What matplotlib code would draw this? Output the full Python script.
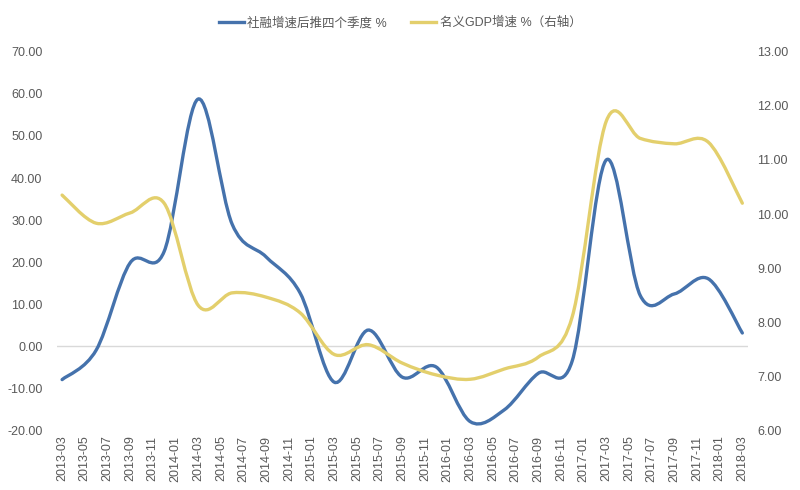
import matplotlib.pyplot as plt
import numpy as np
import pandas as pd
from matplotlib.path import Path
from matplotlib.patches import PathPatch
from matplotlib.lines import Line2D

plt.rcParams["font.family"] = ["Liberation Sans", "Noto Sans CJK SC", "DejaVu Sans"]

# quarterly observations
dates = [
    "2013-03", "2013-06", "2013-09", "2013-12",
    "2014-03", "2014-06", "2014-09", "2014-12",
    "2015-03", "2015-06", "2015-09", "2015-12",
    "2016-03", "2016-06", "2016-09", "2016-12",
    "2017-03", "2017-06", "2017-09", "2017-12",
    "2018-03",
]
tsf = [-8.0, -1.0, 19.8, 22.5, 58.8, 29.0, 21.2, 12.6, -8.6, 3.8, -7.4,
       -5.0, -18.0, -15.2, -6.5, -3.5, 44.3, 12.0, 12.4, 16.0, 3.1]
gdp = [10.35, 9.83, 10.02, 10.2, 8.31, 8.54, 8.46, 8.17, 7.4, 7.58, 7.24,
       7.02, 6.94, 7.13, 7.35, 8.1, 11.72, 11.4, 11.3, 11.33, 10.2]

tick_labels = [p.strftime("%Y-%m") for p in pd.period_range("2013-03", "2018-03", freq="M")][::2]

start = pd.Period("2013-03", freq="M")
xs = np.array([(pd.Period(d, freq="M") - start).n for d in dates], dtype=float)

blue = "#4572AC"
yellow = "#E3CF6C"
grey = "#595959"


def smooth_path(x, y):
    # excel-style smoothed line: cubic bezier through every point
    pts = np.column_stack([x, y])
    verts = [pts[0]]
    codes = [Path.MOVETO]
    n = len(pts)
    for i in range(n - 1):
        p0 = pts[i - 1] if i > 0 else pts[i]
        p1 = pts[i]
        p2 = pts[i + 1]
        p3 = pts[i + 2] if i + 2 < n else pts[i + 1]
        c1 = p1 + (p2 - p0) / 6
        c2 = p2 - (p3 - p1) / 6
        verts += [c1, c2, p2]
        codes += [Path.CURVE4] * 3
    return Path(verts, codes)


fig = plt.figure(figsize=(8, 4.9), dpi=100)
ax = fig.add_axes([0.07125, 0.1224, 0.86375, 0.7715])
ax2 = ax.twinx()

ax.add_patch(PathPatch(smooth_path(xs, tsf), facecolor="none", edgecolor=blue,
                       lw=2.4, capstyle="round", zorder=3))
ax2.add_patch(PathPatch(smooth_path(xs, gdp), facecolor="none", edgecolor=yellow,
                        lw=2.4, capstyle="round", zorder=2))

ax.set_xlim(-0.45, 60.5)
ax.set_ylim(-20, 70)
ax2.set_ylim(6, 13)
ax.set_yticks(np.arange(-20, 71, 10))
ax2.set_yticks(np.arange(6, 13.1, 1))
ax.set_yticklabels([f"{v:.2f}" for v in np.arange(-20, 71, 10)])
ax2.set_yticklabels([f"{v:.2f}" for v in np.arange(6, 13.1, 1)])

ax.set_xticks(np.arange(0, 61, 2))
ax.set_xticklabels(tick_labels, rotation=90)

ax.axhline(0, color="#D9D9D9", lw=1, zorder=1)

for a in (ax, ax2):
    for s in a.spines.values():
        s.set_visible(False)
    a.tick_params(length=0, colors=grey, labelsize=9)
ax.tick_params(axis="y", pad=10.5)
ax2.tick_params(axis="y", pad=6.5)
ax.tick_params(axis="x", pad=4)

handles = [Line2D([], [], color=blue, lw=2.4), Line2D([], [], color=yellow, lw=2.4)]
fig.legend(handles, ["社融增速后推四个季度 %", "名义GDP增速 %（右轴）"],
           loc="center", bbox_to_anchor=(0.5, 0.953), ncol=2, frameon=False,
           fontsize=9, labelcolor=grey, handlelength=2.0, handletextpad=0.3,
           columnspacing=1.9)

fig.savefig("out.png", dpi=100)
